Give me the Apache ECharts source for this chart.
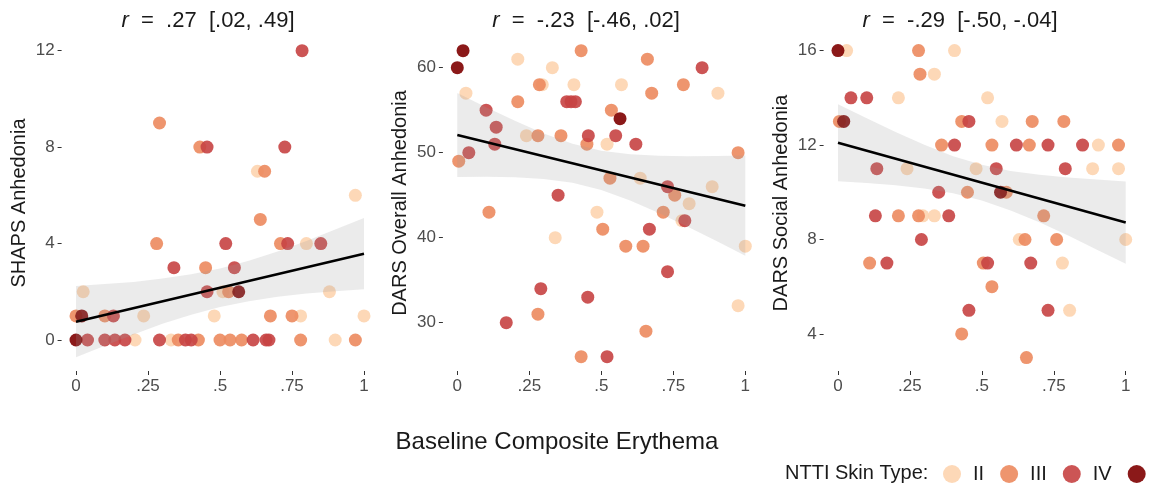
<!DOCTYPE html>
<html>
<head>
<meta charset="utf-8">
<script src="https://cdn.jsdelivr.net/npm/echarts@6/dist/echarts.min.js"></script>
<style>html,body{margin:0;padding:0;background:#fff;}#chart{width:1152px;height:485px;}</style>
</head>
<body>
<div id="chart"></div>
<script>
// ---- data ----
const skinTypes = ['II', 'III', 'IV', 'V'];
const xTickValues = [0, 0.25, 0.5, 0.75, 1];
const xTickLabels = ['0', '.25', '.5', '.75', '1'];
const yTicks1 = [0, 4, 8, 12];
const yTicks2 = [30, 40, 50, 60];
const yTicks3 = [4, 8, 12, 16];
const panelTitles = [['.27', '[.02, .49]'], ['-.23', '[-.46, .02]'], ['-.29', '[-.50, -.04]']];
const yNames = ['SHAPS Anhedonia', 'DARS Overall Anhedonia', 'DARS Social Anhedonia'];

// Panel 1: SHAPS
const p1_II = [[0.025,2],[0.51,2],[0.88,2],[0.235,1],[0.48,1],[0.78,1],[1.0,1],[0.63,7],[0.97,6],[0.80,4],[0.205,0],[0.33,0],[0.90,0]];
const p1_III = [[0.29,9],[0.43,8],[0.655,7],[0.64,5],[0.28,4],[0.71,4],[0.45,3],[0.53,2],[0.0,1],[0.10,1],[0.675,1],[0.75,1],[0.355,0],[0.425,0],[0.50,0],[0.535,0],[0.575,0],[0.78,0],[0.97,0]];
const p1_IV = [[0.785,12],[0.455,8],[0.725,8],[0.52,4],[0.735,4],[0.85,4],[0.34,3],[0.55,3],[0.455,2],[0.13,1],[0.04,0],[0.10,0],[0.135,0],[0.17,0],[0.29,0],[0.38,0],[0.40,0],[0.615,0],[0.66,0],[0.67,0]];
const p1_V = [[0.0,0],[0.02,1],[0.565,2]];

// Panel 2: DARS overall
const p2_II = [[0.21,61],[0.33,60],[0.295,58],[0.405,58],[0.57,58],[0.03,57],[0.905,57],[0.24,52],[0.52,51],[0.635,47],[0.885,46],[0.805,44],[0.485,43],[0.78,42],[0.34,40],[1.0,39],[0.975,32]];
const p2_III = [[0.43,62],[0.66,61],[0.285,58],[0.785,58],[0.675,57],[0.21,56],[0.535,55],[0.28,52],[0.36,52],[0.45,51],[0.975,50],[0.005,49],[0.53,47],[0.755,45],[0.11,43],[0.715,43],[0.505,41],[0.585,39],[0.645,39],[0.28,31],[0.655,29],[0.43,26]];
const p2_IV = [[0.85,60],[0.38,56],[0.395,56],[0.41,56],[0.10,55],[0.135,53],[0.455,52],[0.55,52],[0.13,51],[0.62,51],[0.04,50],[0.73,46],[0.35,45],[0.79,42],[0.667,41],[0.73,36],[0.29,34],[0.453,33],[0.17,30],[0.52,26]];
const p2_V = [[0.02,62],[0.0,60],[0.565,54]];

// Panel 3: DARS social
const p3_II = [[0.03,16],[0.405,16],[0.335,15],[0.21,14],[0.52,14],[0.57,13],[0.905,12],[0.24,11],[0.48,11],[0.885,11],[0.975,11],[0.295,9],[0.335,9],[0.63,8],[1.0,8],[0.78,7],[0.805,5]];
const p3_III = [[0.28,16],[0.285,15],[0.005,13],[0.43,13],[0.675,13],[0.785,13],[0.36,12],[0.535,12],[0.665,12],[0.975,12],[0.45,10],[0.585,10],[0.21,9],[0.28,9],[0.715,9],[0.65,8],[0.76,8],[0.11,7],[0.505,7],[0.535,6],[0.43,4],[0.655,3]];
const p3_IV = [[0.045,14],[0.10,14],[0.455,13],[0.405,12],[0.62,12],[0.73,12],[0.85,12],[0.135,11],[0.55,11],[0.79,11],[0.35,10],[0.13,9],[0.385,9],[0.29,8],[0.17,7],[0.52,7],[0.67,7],[0.455,5],[0.73,5]];
const p3_V = [[0.0,16],[0.02,13],[0.565,10]];

// fitted lines (read at x = 0 and x = 1)
const fitX = [0, 1];
const p1Fit = [0.76, 3.58];
const p2Fit = [52.08, 43.76];
const p3Fit = [12.10, 8.72];

// confidence band edges read at bandX
const bandX = [0, 0.1, 0.2, 0.3, 0.4, 0.5, 0.6, 0.7, 0.8, 0.9, 1.0];
const p1Upper = [2.24, 2.32, 2.41, 2.55, 2.73, 2.97, 3.29, 3.67, 4.11, 4.58, 5.06];
const p1Lower = [-0.72, -0.24, 0.23, 0.67, 1.05, 1.37, 1.61, 1.79, 1.93, 2.02, 2.10];
const p2Upper = [57.03, 55.35, 53.74, 52.26, 51.05, 50.23, 49.80, 49.62, 49.57, 49.59, 49.66];
const p2Lower = [47.13, 47.15, 47.10, 46.90, 46.45, 45.61, 44.38, 42.90, 41.27, 39.59, 37.86];
const p3Upper = [13.73, 13.13, 12.55, 12.01, 11.53, 11.16, 10.90, 10.74, 10.62, 10.54, 10.46];
const p3Lower = [10.47, 10.39, 10.30, 10.16, 9.96, 9.65, 9.23, 8.73, 8.17, 7.57, 6.97];

// ---- styling / layout ----
const FONT = '"Liberation Sans", Arial, Helvetica, sans-serif';
const colors = {II: '#FDD4AF', III: '#EC895E', IV: '#C74343', V: '#7E0000'};
const grids = [
  {left: 61.6, top: 35, width: 316.8, height: 336},
  {left: 442.9, top: 35, width: 316.8, height: 336},
  {left: 823.6, top: 35, width: 316.5, height: 336}
];
const yRanges = [[-1.286, 12.65], [24.31, 63.84], [2.43, 16.66]];
const yTicks = [yTicks1, yTicks2, yTicks3];
const titleCenters = [203, 581, 955];

const panels = [
  {pts: [p1_II, p1_III, p1_IV, p1_V], fit: p1Fit, up: p1Upper, lo: p1Lower},
  {pts: [p2_II, p2_III, p2_IV, p2_V], fit: p2Fit, up: p2Upper, lo: p2Lower},
  {pts: [p3_II, p3_III, p3_IV, p3_V], fit: p3Fit, up: p3Upper, lo: p3Lower}
];

const xAxes = [], yAxes = [], series = [], titles = [];
panels.forEach((p, i) => {
  xAxes.push({
    type: 'value', gridIndex: i, min: -0.05, max: 1.05,
    splitLine: {show: false}, axisLine: {show: false, onZero: false},
    axisTick: {show: true, length: 4, customValues: xTickValues, lineStyle: {color: '#333', width: 1}},
    axisLabel: {customValues: xTickValues, margin: 7, color: '#4d4d4d', fontSize: 17, fontFamily: FONT,
      formatter: v => { const k = xTickValues.findIndex(t => Math.abs(t - v) < 1e-9); return k >= 0 ? xTickLabels[k] : ''; }}
  });
  yAxes.push({
    type: 'value', gridIndex: i, min: yRanges[i][0], max: yRanges[i][1],
    name: yNames[i], nameLocation: 'middle', nameGap: 32, nameRotate: 90,
    nameTextStyle: {fontSize: 20, color: '#1a1a1a', fontFamily: FONT},
    splitLine: {show: false}, axisLine: {show: false, onZero: false},
    axisTick: {show: true, length: 4, customValues: yTicks[i], lineStyle: {color: '#333', width: 1}},
    axisLabel: {customValues: yTicks[i], margin: 7, color: '#4d4d4d', fontSize: 17, fontFamily: FONT}
  });
  p.pts.forEach((arr, k) => {
    series.push({
      type: 'scatter', name: skinTypes[k], xAxisIndex: i, yAxisIndex: i, data: arr,
      symbolSize: 13, itemStyle: {color: colors[skinTypes[k]], opacity: 0.9}, z: 2
    });
  });
  const up = p.up, lo = p.lo;
  series.push({
    type: 'custom', xAxisIndex: i, yAxisIndex: i, z: 3, silent: true,
    data: bandX.map((x, j) => [x, up[j], lo[j]]),
    renderItem: function (params, api) {
      if (params.dataIndex !== 0) return;
      const pts = [];
      for (let j = 0; j < bandX.length; j++) pts.push(api.coord([bandX[j], up[j]]));
      for (let j = bandX.length - 1; j >= 0; j--) pts.push(api.coord([bandX[j], lo[j]]));
      return {type: 'polygon', shape: {points: pts}, style: {fill: 'rgba(153,153,153,0.2)'}};
    }
  });
  series.push({
    type: 'line', xAxisIndex: i, yAxisIndex: i, z: 4, silent: true,
    data: fitX.map((x, j) => [x, p.fit[j]]), symbol: 'none',
    lineStyle: {color: '#000', width: 2.5}
  });
  titles.push({
    text: '{i|r}  =  ' + panelTitles[i][0] + '  ' + panelTitles[i][1],
    left: titleCenters[i], top: 5, textAlign: 'center',
    textStyle: {fontSize: 22, fontWeight: 'normal', color: '#1a1a1a', fontFamily: FONT,
      rich: {i: {fontStyle: 'italic', fontSize: 22, color: '#1a1a1a', fontFamily: FONT}}}
  });
});

const chart = echarts.init(document.getElementById('chart'), null, {renderer: 'canvas'});
chart.setOption({
  animation: false,
  backgroundColor: '#ffffff',
  title: titles,
  grid: grids,
  xAxis: xAxes,
  yAxis: yAxes,
  legend: {
    data: skinTypes, left: 943, top: 464, width: 400, padding: 0, icon: 'circle',
    itemWidth: 18, itemHeight: 18, itemGap: 16,
    textStyle: {fontSize: 20, color: '#1a1a1a', fontFamily: FONT, padding: [0, 0, 0, 7]}
  },
  graphic: [
    {type: 'text', left: 785, top: 463, style: {text: 'NTTI Skin Type:', fontSize: 20, fill: '#1a1a1a', fontFamily: FONT}},
    {type: 'text', x: 557, y: 442, style: {text: 'Baseline Composite Erythema', fontSize: 24, fill: '#1a1a1a', fontFamily: FONT, textAlign: 'center', textVerticalAlign: 'middle'}}
  ],
  series: series
});
</script>
</body>
</html>
